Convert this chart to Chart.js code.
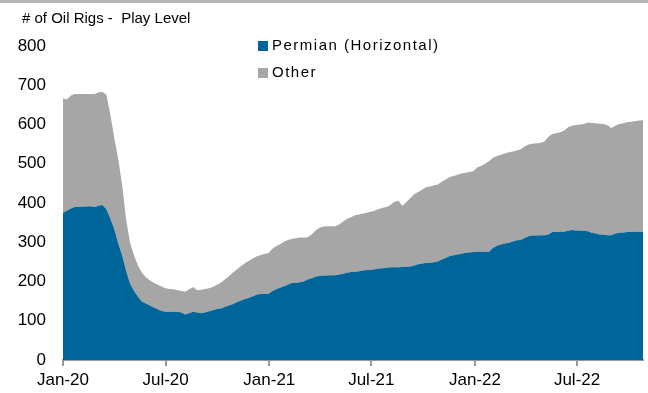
<!DOCTYPE html>
<html>
<head>
<meta charset="utf-8">
<script src="https://cdn.jsdelivr.net/npm/chart.js@4/dist/chart.umd.min.js"></script>
<style>
  html, body { margin: 0; padding: 0; background: #ffffff; }
  #wrap { width: 648px; height: 393px; position: relative; }
</style>
</head>
<body>
<div id="wrap"><canvas id="rigs" width="648" height="393"></canvas></div>
<script>
// Weekly oil rig counts, starting the first week of 2020
const START_DATE = '2020-01-01';
const permian = [
  375, 380, 386, 390, 390, 391, 391, 392, 390, 393,
  395, 384, 360, 334, 297, 266, 227, 195, 176, 161,
  149, 144, 139, 134, 129, 125, 123, 123, 123, 123,
  121, 116, 119, 123, 121, 119, 121, 124, 127, 130,
  131, 135, 139, 142, 147, 151, 155, 158, 162, 166,
  168, 168, 168, 175, 180, 184, 188, 192, 196, 197,
  198, 200, 205, 208, 212, 214, 215, 215, 216, 216,
  218, 220, 222, 224, 225, 226, 228, 229, 230, 231,
  233, 234, 235, 236, 236, 236, 237, 237, 238, 241,
  244, 246, 247, 248, 249, 251, 256, 260, 265, 267,
  269, 271, 273, 274, 275, 276, 276, 276, 276, 286,
  291, 294, 297, 299, 302, 305, 306, 311, 315, 317,
  317, 318, 318, 320, 326, 326, 327, 327, 329, 331,
  330, 330, 329, 328, 324, 322, 320, 319, 318, 318,
  322, 324, 325, 326, 327, 327, 327, 327
];
const other = [
  292, 284, 288, 288, 288, 287, 287, 286, 288, 289,
  288, 292, 265, 232, 215, 179, 131, 104,  90,  80,
   73,  67,  64,  63,  63,  62,  60,  58,  57,  55,
   55,  58,  61,  63,  57,  60,  60,  59,  59,  62,
   66,  70,  74,  80,  83,  87,  91,  94,  96,  98,
   99, 102, 104, 108, 110, 111, 113, 114, 112, 113,
  114, 112, 108, 112, 118, 123, 125, 126, 125, 125,
  127, 133, 138, 140, 144, 145, 145, 146, 148, 149,
  152, 154, 155, 159, 167, 170, 156, 165, 174, 181,
  184, 188, 193, 194, 196, 196, 198, 200, 201, 202,
  203, 204, 204, 205, 206, 215, 218, 224, 231, 229,
  229, 229, 229, 230, 229, 229, 231, 233, 234, 234,
  235, 235, 239, 248, 250, 252, 253, 257, 264, 266,
  269, 270, 272, 277, 280, 281, 282, 282, 280, 273,
  275, 277, 278, 280, 280, 281, 283, 284
];
const xTickLabels = ['Jan-20', 'Jul-20', 'Jan-21', 'Jul-21', 'Jan-22', 'Jul-22'];
const xTickDates = ['2020-01-01', '2020-07-01', '2021-01-01', '2021-07-01', '2022-01-01', '2022-07-01'];
const yTicks = [0, 100, 200, 300, 400, 500, 600, 700, 800];
const seriesNames = ['Permian (Horizontal)', 'Other'];
const seriesColors = ['#006699', '#a6a6a6'];

const DAY = 86400000;
const t0 = Date.parse(START_DATE);
const dayOf = s => Math.round((Date.parse(s) - t0) / DAY);
// each week sits 7 days after the previous one
const weekDays = permian.map((_, i) => i * 7);
const tickDays = xTickDates.map(dayOf);

const FONT = '"Liberation Sans", Arial, Helvetica, sans-serif';

const decorations = {
  id: 'decorations',
  beforeDraw(chart) {
    const ctx = chart.ctx;
    ctx.save();
    ctx.fillStyle = '#b3b3b3';
    ctx.fillRect(0, 0, chart.width, 3);
    ctx.restore();
  },
  afterDraw(chart) {
    const ctx = chart.ctx;
    ctx.save();
    ctx.fillStyle = '#000000';
    ctx.font = '15px ' + FONT;
    ctx.textBaseline = 'middle';
    ctx.textAlign = 'left';
    ctx.fillText('# of Oil Rigs -  Play Level', 22, 19);
    // legend
    const lx = 258;
    const rows = [46, 73];
    ctx.letterSpacing = '1.5px';
    seriesNames.forEach((name, i) => {
      ctx.fillStyle = seriesColors[i];
      ctx.fillRect(lx, rows[i] - 5, 10, 10);
      ctx.fillStyle = '#000000';
      ctx.fillText(name, lx + 14, rows[i]);
    });
    ctx.restore();
  }
};

new Chart(document.getElementById('rigs'), {
  type: 'line',
  data: {
    datasets: [
      {
        label: seriesNames[0],
        data: permian.map((v, i) => ({ x: weekDays[i], y: v })),
        backgroundColor: seriesColors[0],
        borderWidth: 0,
        pointRadius: 0,
        fill: 'origin',
        tension: 0
      },
      {
        label: seriesNames[1],
        data: other.map((v, i) => ({ x: weekDays[i], y: v })),
        backgroundColor: seriesColors[1],
        borderWidth: 0,
        pointRadius: 0,
        fill: '-1',
        tension: 0
      }
    ]
  },
  options: {
    responsive: false,
    animation: false,
    events: [],
    layout: { padding: { left: 0, right: 5, top: 46, bottom: 0 } },
    plugins: {
      legend: { display: false },
      tooltip: { enabled: false },
      title: { display: false }
    },
    scales: {
      x: {
        type: 'linear',
        min: 0,
        max: weekDays[weekDays.length - 1],
        afterBuildTicks(scale) {
          scale.ticks = tickDays.map(v => ({ value: v }));
        },
        afterFit(scale) { scale.height = 33; },
        ticks: {
          autoSkip: false,
          maxRotation: 0,
          padding: 4,
          color: '#000000',
          font: { family: FONT, size: 17 },
          callback(value) {
            const k = tickDays.indexOf(value);
            return k >= 0 ? xTickLabels[k] : '';
          }
        },
        grid: {
          drawOnChartArea: false,
          drawTicks: true,
          tickLength: 6,
          color: '#999999',
          lineWidth: 2
        },
        border: { display: true, color: '#999999', width: 2 }
      },
      y: {
        stacked: true,
        min: 0,
        max: 800,
        afterBuildTicks(scale) {
          scale.ticks = yTicks.map(v => ({ value: v }));
        },
        afterFit(scale) { scale.width = 63; },
        ticks: {
          padding: 17,
          color: '#000000',
          font: { family: FONT, size: 17 }
        },
        grid: { display: false, drawTicks: false },
        border: { display: false }
      }
    }
  },
  plugins: [decorations]
});
</script>
</body>
</html>
